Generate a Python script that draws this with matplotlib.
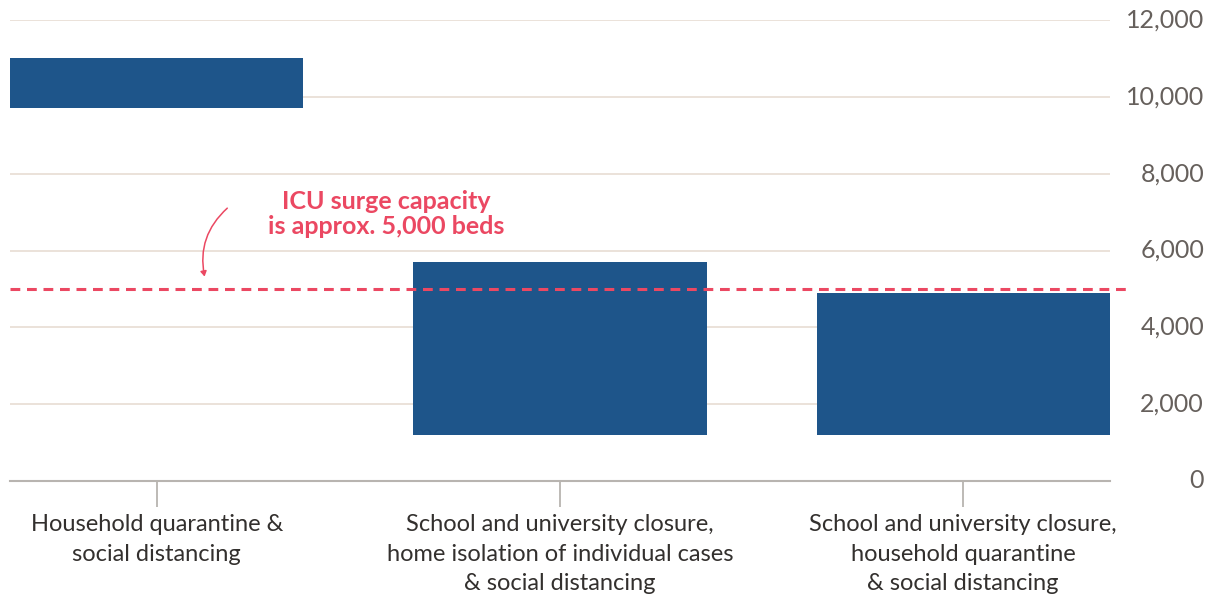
import matplotlib
matplotlib.use("Agg")
import matplotlib.pyplot as plt
from matplotlib.patches import FancyArrowPatch

categories = ["Household quarantine &\nsocial distancing",
              "School and university closure,\nhome isolation of individual cases\n& social distancing",
              "School and university closure,\nhousehold quarantine\n& social distancing"]
low_values = [9700, 1200, 1200]
high_values = [11000, 5700, 4900]
icu_capacity = 5000
y_ticks = [0, 2000, 4000, 6000, 8000, 10000, 12000]
y_tick_labels = ["0", "2,000", "4,000", "6,000", "8,000", "10,000", "12,000"]
annotation = "ICU surge capacity\nis approx. 5,000 beds"

plt.rcParams['font.family'] = ['Lato', 'DejaVu Sans']

BAR = '#1e558a'
RED = '#eb4862'
GRID = '#e8ddd3'
AXIS = '#b8b4b0'
TICK_TXT = '#66605c'
LABEL_TXT = '#33302e'

fig = plt.figure(figsize=(12.21, 5.96), dpi=100)
ax = fig.add_axes([10/1221, 115/596, 1100/1221, 461/596])

x = list(range(len(categories)))
heights = [h - l for h, l in zip(high_values, low_values)]
ax.bar(x, heights, bottom=low_values, width=0.727, color=BAR, zorder=2)

ax.set_xlim(-0.364, 2.364)
ax.set_ylim(0, 12000)

for t in y_ticks[1:]:
    ax.axhline(t, color=GRID, lw=1.2, zorder=1)

for s in ['top', 'left', 'right']:
    ax.spines[s].set_visible(False)
ax.spines['bottom'].set_color(AXIS)
ax.spines['bottom'].set_linewidth(1.5)
ax.spines['bottom'].set_zorder(3)

# right-aligned y tick labels drawn at tick positions
ax.set_yticks(y_ticks)
ax.tick_params(axis='y', length=0, labelleft=False, labelright=False)
ytr = ax.get_yaxis_transform()
for t, lab in zip(y_ticks, y_tick_labels):
    ax.text(1.0855, t, lab, transform=ytr, ha='right', va='center',
            fontsize=18, color=TICK_TXT, clip_on=False)

ax.set_xticks(x)
ax.set_xticklabels(categories, fontsize=17, color=LABEL_TXT, linespacing=1.5)
ax.tick_params(axis='x', length=19, width=1.3, color=AXIS, pad=5, direction='out')

# dashed ICU line extending slightly beyond axes
ax.plot([0, 1.0155], [icu_capacity, icu_capacity], transform=ytr,
        color=RED, lw=2.2, ls=(0, (3.2, 2.2)), clip_on=False, zorder=4)

ax.text(0.57, 6950, annotation, ha='center', va='center', fontsize=18,
        color=RED, fontweight='bold', linespacing=1.15)

arrow = FancyArrowPatch((0.18, 7150), (0.12, 5250),
                        connectionstyle="arc3,rad=0.3",
                        arrowstyle='-|>,head_length=3,head_width=1.8',
                        color=RED, lw=1.1, zorder=5)
ax.add_patch(arrow)

fig.savefig("out.png", dpi=100, facecolor='white')
